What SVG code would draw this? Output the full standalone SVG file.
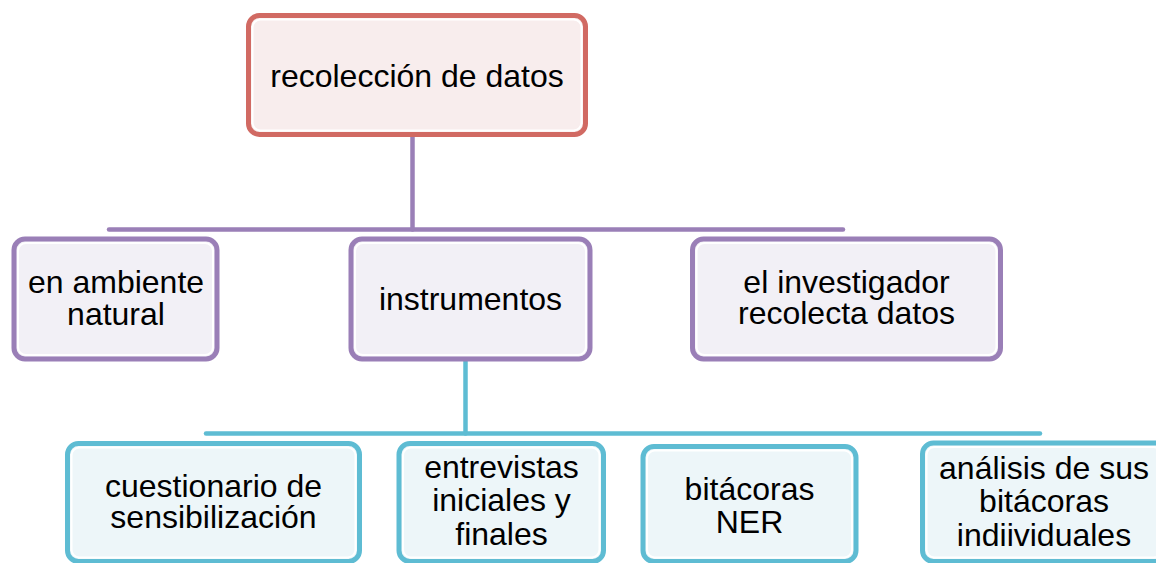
<svg xmlns="http://www.w3.org/2000/svg" width="1156" height="563" viewBox="0 0 1156 563">
<style>
.t{font-family:"Liberation Sans",Arial,sans-serif;font-size:32px;fill:#000;text-anchor:middle}
.red{fill:#F8EDED;stroke:#D16A63;stroke-width:5}
.pur{fill:#F2F0F6;stroke:#9A7FB7;stroke-width:5}
.cya{fill:#EDF6F9;stroke:#5EBCD3;stroke-width:5}
.hl{fill:none;stroke:#fff;stroke-width:2}
.lp{stroke:#9A7FB7;stroke-width:4.5;fill:none;stroke-linecap:round}
.lc{stroke:#5EBCD3;stroke-width:4.5;fill:none;stroke-linecap:round}
</style>
<rect width="1156" height="563" fill="#fff"/>
<g id="connectors">
<line class="lp" x1="412.5" y1="137" x2="412.5" y2="229.5"/>
<line class="lp" x1="109" y1="229.5" x2="843" y2="229.5"/>
<line class="lc" x1="465.5" y1="361" x2="465.5" y2="433.5"/>
<line class="lc" x1="206" y1="433.5" x2="1040" y2="433.5"/>
</g>
<g id="n-root">
<rect class="red" x="248.5" y="15.5" width="337" height="119" rx="11"/>
<rect class="hl" x="252.5" y="19.5" width="329" height="111" rx="8"/>
<text class="t" x="417" y="87">recolección de datos</text>
</g>
<g id="n-ambiente">
<rect class="pur" x="14" y="239" width="203" height="120" rx="11"/>
<rect class="hl" x="18" y="243" width="195" height="112" rx="8"/>
<text class="t" x="116" y="293">en ambiente</text>
<text class="t" x="116" y="325">natural</text>
</g>
<g id="n-instrumentos">
<rect class="pur" x="351" y="239" width="239" height="120" rx="11"/>
<rect class="hl" x="355" y="243" width="231" height="112" rx="8"/>
<text class="t" x="470.5" y="310">instrumentos</text>
</g>
<g id="n-investigador">
<rect class="pur" x="692.5" y="239" width="308" height="120" rx="11"/>
<rect class="hl" x="696.5" y="243" width="300" height="112" rx="8"/>
<text class="t" x="846.5" y="293">el investigador</text>
<text class="t" x="846.5" y="324">recolecta datos</text>
</g>
<g id="n-cuestionario">
<rect class="cya" x="67.5" y="443.5" width="292" height="118" rx="11"/>
<rect class="hl" x="71.5" y="447.5" width="284" height="110" rx="8"/>
<text class="t" x="213.5" y="497">cuestionario de</text>
<text class="t" x="213.5" y="528">sensibilización</text>
</g>
<g id="n-entrevistas">
<rect class="cya" x="399" y="443.5" width="204.5" height="118" rx="11"/>
<rect class="hl" x="403" y="447.5" width="196.5" height="110" rx="8"/>
<text class="t" x="501.5" y="478">entrevistas</text>
<text class="t" x="501.5" y="511">iniciales y</text>
<text class="t" x="501.5" y="545">finales</text>
</g>
<g id="n-bitacoras">
<rect class="cya" x="643" y="446.5" width="213" height="115" rx="11"/>
<rect class="hl" x="647" y="450.5" width="205" height="107" rx="8"/>
<text class="t" x="749.5" y="500">bitácoras</text>
<text class="t" x="749.5" y="533">NER</text>
</g>
<g id="n-analisis">
<rect class="cya" x="922.5" y="443" width="243" height="118.5" rx="11"/>
<rect class="hl" x="926.5" y="447" width="235" height="110.5" rx="8"/>
<text class="t" x="1044" y="479">análisis de sus</text>
<text class="t" x="1044" y="512">bitácoras</text>
<text class="t" x="1044" y="546">indiividuales</text>
</g>
</svg>
